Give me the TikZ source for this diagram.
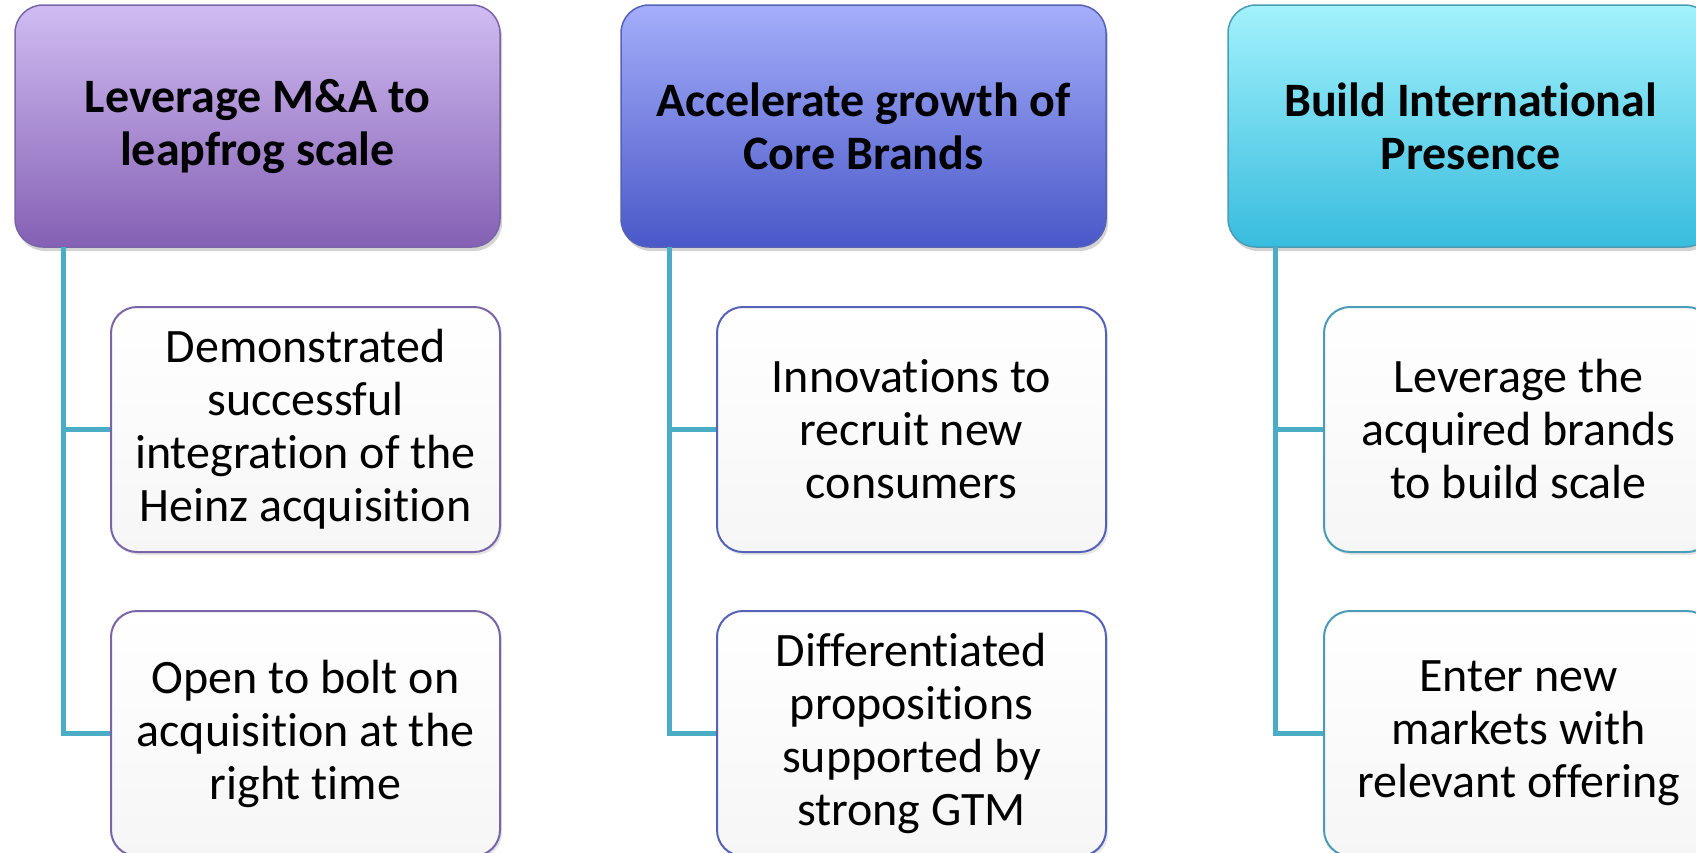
\documentclass[tikz,border=0pt]{standalone}
\usepackage{fontspec}
\setmainfont{Carlito}[RawFeature=-liga]
\usetikzlibrary{shadows}

\definecolor{linkblue}{HTML}{4BACC6}
\definecolor{purpletop}{HTML}{D0BCF2}
\definecolor{purplebot}{HTML}{8560B4}
\definecolor{purpleline}{HTML}{7A64A8}
\definecolor{bluetop}{HTML}{A4AEFA}
\definecolor{bluebot}{HTML}{4A58C8}
\definecolor{blueline}{HTML}{5562B8}
\definecolor{cyantop}{HTML}{A2F2FC}
\definecolor{cyanbot}{HTML}{38BCDE}
\definecolor{cyanline}{HTML}{4A9CB6}

\tikzset{
    head/.style={rounded corners=28pt, minimum width=485pt, minimum height=242pt,
        align=center, font=\fontsize{48}{53}\selectfont\bfseries,
        draw=#1line, line width=1.5pt, top color=#1top, bottom color=#1bot,
        drop shadow={opacity=0.35, shadow xshift=2pt, shadow yshift=-4pt}},
    item/.style={rounded corners=26pt, minimum width=389pt, minimum height=245pt,
        align=center, font=\fontsize{48}{53}\selectfont,
        draw=#1line, line width=2pt, top color=white, bottom color=gray!7,
        drop shadow={opacity=0.2, shadow xshift=2pt, shadow yshift=-3pt}},
    link/.style={draw=linkblue, line width=5pt}
}

\begin{document}
\begin{tikzpicture}[x=1pt, y=-1pt]
    \useasboundingbox (0,0) rectangle (1696,852);
    \clip (0,0) rectangle (1696,852);

    % Headers
    \node[head=purple] (h1) at (257.5,126) {Leverage M\&A to\\leapfrog scale};
    \node[head=blue]   (h2) at (863.5,126) {Accelerate growth of\\Core Brands};
    \node[head=cyan]   (h3) at (1470.5,126) {Build International\\Presence};

    % M&A column
    \node[item=purple] (a1) at (305.5,429.5) {Demonstrated\\successful\\integration of the\\Heinz acquisition};
    \node[item=purple] (b1) at (305.5,733.5) {Open to bolt on\\acquisition at the\\right time};

    % Core brands column
    \node[item=blue] (a2) at (911.5,429.5) {Innovations to\\recruit new\\consumers};
    \node[item=blue] (b2) at (911.5,733.5) {Differentiated\\propositions\\supported by\\strong GTM};

    % International column
    \node[item=cyan] (a3) at (1518.5,429.5) {Leverage the\\acquired brands\\to build scale};
    \node[item=cyan] (b3) at (1518.5,733.5) {Enter new\\markets with\\relevant offering};

    % Connectors
    \coordinate (t1) at (63,247);
    \coordinate (t2) at (669,247);
    \coordinate (t3) at (1275,247);
    \draw[link] (t1) |- (a1.west);
    \draw[link] (t1) |- (b1.west);
    \draw[link] (t2) |- (a2.west);
    \draw[link] (t2) |- (b2.west);
    \draw[link] (t3) |- (a3.west);
    \draw[link] (t3) |- (b3.west);
\end{tikzpicture}
\end{document}
